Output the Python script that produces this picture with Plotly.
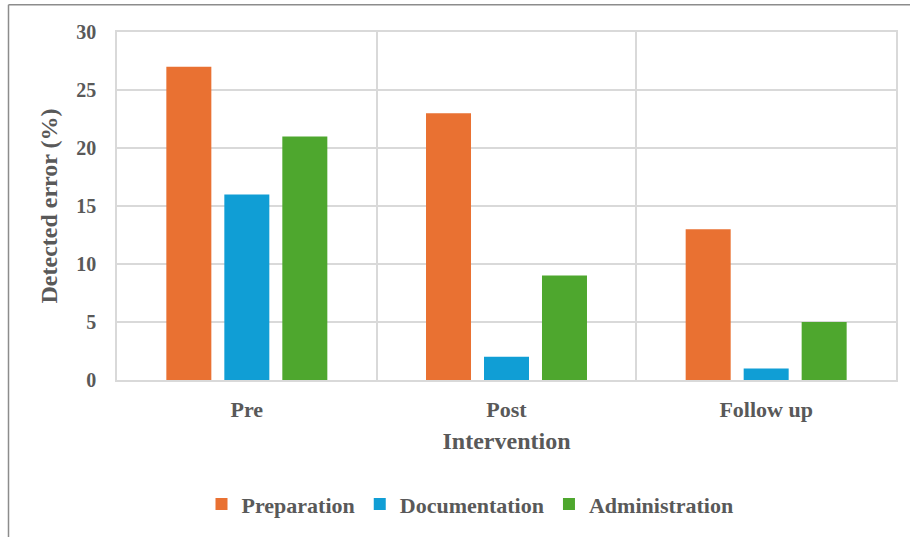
import plotly.graph_objects as go

# Detected error rates by intervention phase
phases = ["Pre", "Post", "Follow up"]
preparation = [27, 23, 13]
documentation = [16, 2, 1]
administration = [21, 9, 5]

series_names = ["Preparation", "Documentation", "Administration"]
series_colors = ["#E97132", "#109ED5", "#4EA72E"]

y_ticks = [0, 5, 10, 15, 20, 25, 30]

FONT = "Liberation Serif, Times New Roman, serif"
TEXT = "#595959"
GRID = "#D9D9D9"

fig = go.Figure()
for name, vals, col in zip(series_names, [preparation, documentation, administration], series_colors):
    fig.add_trace(go.Bar(x=phases, y=vals, name=name, marker=dict(color=col, line=dict(width=0))))

W, H = 910, 537
ml, mr, mt, mb = 117, 14, 32, 155

fig.update_layout(
    width=W, height=H,
    margin=dict(l=ml, r=mr, t=mt, b=mb),
    paper_bgcolor="white", plot_bgcolor="white",
    barmode="group", bargap=0.33, bargroupgap=0.224,
    font=dict(family=FONT, color=TEXT, size=20),
    showlegend=True,
    legend=dict(
        orientation="h", x=(470 - ml) / (W - ml - mr), xanchor="center",
        y=-(507 - (H - mb)) / (H - mt - mb), yanchor="middle",
        font=dict(family=FONT, size=22, color=TEXT, weight="bold"),
        itemwidth=30, entrywidth=0, traceorder="normal",
    ),
)

fig.update_xaxes(
    type="category", tickson="boundaries",
    showgrid=True, gridcolor=GRID, gridwidth=1.5,
    showline=True, linecolor=GRID, linewidth=1.5, mirror=True,
    ticks="", ticklabelstandoff=9,
    tickfont=dict(family=FONT, size=22, color=TEXT, weight="bold"),
    title=dict(text="Intervention", standoff=11,
               font=dict(family=FONT, size=24, color=TEXT, weight="bold")),
)
fig.update_yaxes(
    range=[0, 30], tickvals=y_ticks,
    showgrid=True, gridcolor=GRID, gridwidth=1.5,
    showline=True, linecolor=GRID, linewidth=1.5, mirror=True,
    zeroline=False, ticks="", ticklabelstandoff=15,
    tickfont=dict(family=FONT, size=20, color=TEXT, weight="bold"),
    title=dict(text="Detected error (%)", standoff=12,
               font=dict(family=FONT, size=24, color=TEXT, weight="bold")),
)

# outer chart frame (top and left edges)
fig.add_shape(type="line", xref="paper", yref="paper",
              x0=(8.5 - ml) / (W - ml - mr), x1=(W + 5 - ml) / (W - ml - mr),
              y0=(H - 4.5 - mb) / (H - mt - mb), y1=(H - 4.5 - mb) / (H - mt - mb),
              line=dict(color="#8C8C8C", width=1.5), layer="above")
fig.add_shape(type="line", xref="paper", yref="paper",
              x0=(8.5 - ml) / (W - ml - mr), x1=(8.5 - ml) / (W - ml - mr),
              y0=(H - 4.5 - mb) / (H - mt - mb), y1=-(mb + 5) / (H - mt - mb),
              line=dict(color="#8C8C8C", width=1.5), layer="above")

fig.write_html("out.html")
